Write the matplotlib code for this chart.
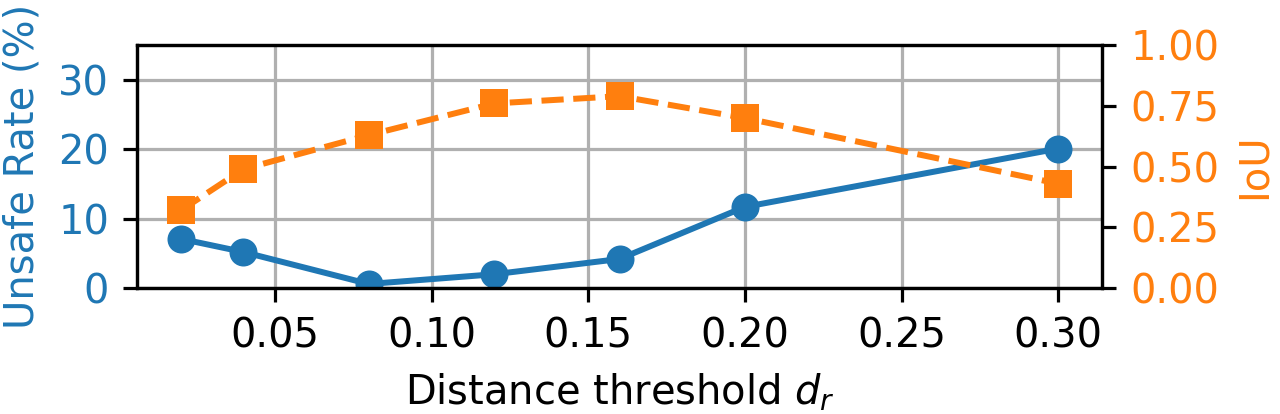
import matplotlib
matplotlib.use("Agg")
import matplotlib.pyplot as plt

# distance thresholds and measured results
d_r = [0.02, 0.04, 0.08, 0.12, 0.16, 0.20, 0.30]
unsafe_rate = [7.1, 5.2, 0.6, 2.0, 4.2, 11.7, 20.1]
iou = [0.32, 0.49, 0.63, 0.76, 0.79, 0.70, 0.43]

blue = "#1f77b4"
orange = "#ff7f0e"

fig, ax1 = plt.subplots(figsize=(1280 / 288, 414 / 288), dpi=288)
fig.subplots_adjust(left=0.107, right=0.861, top=0.891, bottom=0.304)

ax1.plot(d_r, unsafe_rate, "-o", color=blue)
ax1.set_ylim(0, 35)
ax1.set_yticks([0, 10, 20, 30])
ax1.set_ylabel("Unsafe Rate (%)", color=blue)
ax1.tick_params(axis="y", labelcolor=blue)
ax1.set_xlabel("Distance threshold $d_r$")
ax1.grid(True)

ax2 = ax1.twinx()
ax2.plot(d_r, iou, "--s", color=orange)
ax2.set_ylim(0, 1)
ax2.set_yticks([0, 0.25, 0.5, 0.75, 1.0])
ax2.set_ylabel("IoU", color=orange)
ax2.tick_params(axis="y", labelcolor=orange)

fig.savefig("out.png", dpi=288)
